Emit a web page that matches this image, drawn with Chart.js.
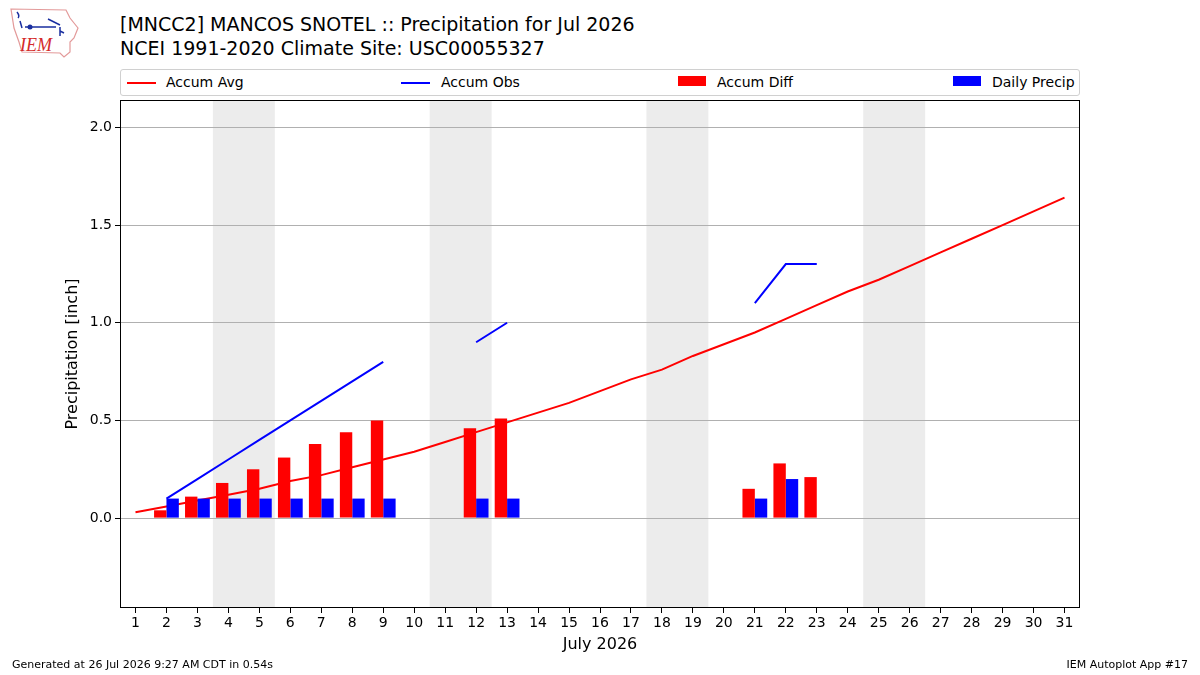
<!DOCTYPE html>
<html><head><meta charset="utf-8">
<script src="https://cdn.jsdelivr.net/npm/chart.js@4.4.1/dist/chart.umd.min.js"></script>
<style>
html,body{margin:0;padding:0;background:#fff;}
body{width:1200px;height:675px;position:relative;overflow:hidden;font-family:"DejaVu Sans",sans-serif;color:#000;}
#c{position:absolute;left:0;top:0;}
.title{position:absolute;left:120px;font-size:19px;white-space:nowrap;line-height:22px;}
#legend{position:absolute;left:120px;top:69px;width:958px;height:25px;border:1px solid #d0d0d0;border-radius:3px;background:#fff;}
.li{position:absolute;top:0;height:25px;font-size:14px;line-height:25px;white-space:nowrap;}
.sw-line{position:absolute;top:12px;width:29px;height:2px;}
.sw-box{position:absolute;top:6px;width:28px;height:10px;}
.foot{position:absolute;top:658px;font-size:11px;white-space:nowrap;}
#logo{position:absolute;left:8px;top:6px;}
</style>
</head><body>
<svg id="logo" width="74" height="54" viewBox="0 0 74 54">
  <path d="M3,3 L58,4 L62,12 L70,22 L66,32 L62,36 L62,46 L56,51 L52,47 L14,46 L11,36 L6,22 Z" fill="none" stroke="#e39a9a" stroke-width="1.2"/>
  <path d="M9,6 Q12,10 10,12 M12,15 L14,22 M17,21 L48,21 M40,13 L52,19 M52,21 L52,30 M52,25 L56,27" stroke="#1a2fa0" stroke-width="1.5" fill="none"/>
  <circle cx="22" cy="21" r="2.5" fill="#1a2fa0"/>
  <text x="12" y="45" font-family="Liberation Serif, serif" font-style="italic" font-size="18" fill="#d42a2a">IEM</text>
</svg>
<div class="title" style="top:13px">[MNCC2] MANCOS SNOTEL :: Precipitation for Jul 2026</div>
<div class="title" style="top:37px">NCEI 1991-2020 Climate Site: USC00055327</div>
<div id="legend"></div>
<canvas id="c" width="1200" height="675"></canvas>
<div class="foot" style="left:12px">Generated at 26 Jul 2026 9:27 AM CDT in 0.54s</div>
<div class="foot" style="right:12px">IEM Autoplot App #17</div>
<script>
// ---- data ----
const days = [1,2,3,4,5,6,7,8,9,10,11,12,13,14,15,16,17,18,19,20,21,22,23,24,25,26,27,28,29,30,31];
const accumAvg = [0.03,0.06,0.09,0.12,0.15,0.19,0.22,0.26,0.30,0.34,0.39,0.44,0.49,0.54,0.59,0.65,0.71,0.76,0.83,0.89,0.95,1.02,1.09,1.16,1.22,1.29,1.36,1.43,1.50,1.57,1.64];
const accumObs = [null,0.1,0.2,0.3,0.4,0.5,0.6,0.7,0.8,null,null,0.9,1.0,null,null,null,null,null,null,null,1.1,1.3,1.3,null,null,null,null,null,null,null,null];
const obsDays = [2,3,4,5,6,7,8,9,12,13,21,22,23];
const accumDiff = [0.04,0.11,0.18,0.25,0.31,0.38,0.44,0.50,0.46,0.51,0.15,0.28,0.21];
const dailyPrecip = [0.1,0.1,0.1,0.1,0.1,0.1,0.1,0.1,0.1,0.1,0.1,0.2,0.0];
const weekendSaturdays = [4,11,18,25];
const xTicks = days;
const yTicks = [0.0,0.5,1.0,1.5,2.0];
const seriesLabels = ['Accum Avg','Accum Obs','Accum Diff','Daily Precip'];
const seriesColors = ['#ff0000','#0000ff','#ff0000','#0000ff'];

// ---- legend (html) ----
const legendPos = [[6,45],[280,320],[557,596],[832,871]];
const lg = document.getElementById('legend');
seriesLabels.forEach((lab,i)=>{
  const d = document.createElement('div');
  d.className='li'; d.style.left = legendPos[i][0]+'px';
  const sw = document.createElement('div');
  sw.className = i<2 ? 'sw-line' : 'sw-box';
  sw.style.left='0px'; sw.style.background=seriesColors[i];
  const t = document.createElement('span');
  t.textContent = lab; t.style.position='absolute'; t.style.left=(legendPos[i][1]-legendPos[i][0])+'px';
  d.appendChild(sw); d.appendChild(t); lg.appendChild(d);
});

const FONT = 'DejaVu Sans';
const shade = {id:'shade', beforeDraw(chart){
  const {ctx, chartArea:a, scales:{x}} = chart;
  ctx.save(); ctx.fillStyle='#ececec';
  weekendSaturdays.forEach(d=>{
    const x0=x.getPixelForValue(d-0.5), x1=x.getPixelForValue(d+1.5);
    ctx.fillRect(x0,a.top,x1-x0,a.bottom-a.top);
  });
  ctx.restore();
}};
const frame = {id:'frame', afterDraw(chart){
  const {ctx, chartArea:a} = chart;
  ctx.save(); ctx.strokeStyle='#000'; ctx.lineWidth=1;
  ctx.strokeRect(Math.round(a.left)+0.5, Math.round(a.top)+0.5, Math.round(a.right-a.left)-1, Math.round(a.bottom-a.top)-1);
  ctx.restore();
}};

new Chart(document.getElementById('c'), {
  type:'bar',
  data:{
    datasets:[
      {type:'bar', label:seriesLabels[2], data:obsDays.map((d,i)=>({x:d,y:accumDiff[i]})), backgroundColor:seriesColors[2], borderWidth:0, order:0, categoryPercentage:0.8, barPercentage:1.0},
      {type:'bar', label:seriesLabels[3], data:obsDays.map((d,i)=>({x:d,y:dailyPrecip[i]})), backgroundColor:seriesColors[3], borderWidth:0, order:0, categoryPercentage:0.8, barPercentage:1.0},
      {type:'line', label:seriesLabels[0], data:days.map((d,i)=>({x:d,y:accumAvg[i]})), borderColor:seriesColors[0], borderWidth:2, pointRadius:0, tension:0, order:1},
      {type:'line', label:seriesLabels[1], data:days.map((d,i)=>({x:d,y:accumObs[i]})), borderColor:seriesColors[1], borderWidth:2, pointRadius:0, tension:0, spanGaps:false, order:1}
    ]
  },
  options:{
    responsive:false, animation:false, devicePixelRatio:1,
    layout:{padding:{left:0,top:100,right:120,bottom:0}},
    plugins:{legend:{display:false}, tooltip:{enabled:false}},
    scales:{
      x:{type:'linear', min:0.5, max:31.5, offset:false,
        afterBuildTicks(s){ s.ticks = xTicks.map(v=>({value:v})); },
        afterFit(s){ s.height = 67; },
        grid:{display:true, offset:false, drawOnChartArea:false, drawTicks:true, tickLength:5, tickColor:'#000'},
        border:{display:false},
        ticks:{color:'#000', font:{family:FONT,size:14}, padding:2, maxRotation:0, autoSkip:false, callback:v=>String(v)},
        title:{display:true, text:'July 2026', color:'#000', font:{family:FONT,size:16}, padding:{top:0,bottom:21}}
      },
      y:{type:'linear', min:-0.46, max:2.14,
        afterBuildTicks(s){ s.ticks = yTicks.map(v=>({value:v})); },
        afterFit(s){ s.width = 120; },
        grid:{color:'#b0b0b0', lineWidth:1, drawTicks:true, tickLength:5, tickColor:'#000'},
        border:{display:false},
        ticks:{color:'#000', font:{family:FONT,size:14}, padding:3, callback:v=>Number(v).toFixed(1)},
        title:{display:true, text:'Precipitation [inch]', color:'#000', font:{family:FONT,size:16}, padding:{top:63,bottom:0}}
      }
    }
  },
  plugins:[shade, frame]
});
</script>
</body></html>
